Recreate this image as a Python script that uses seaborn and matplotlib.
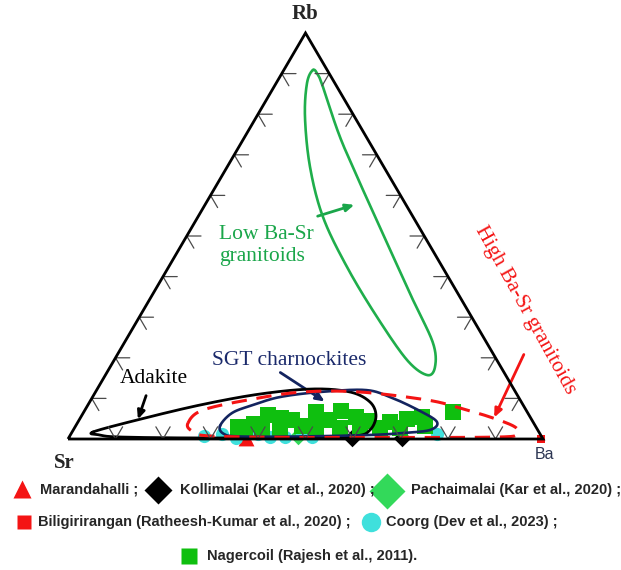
import numpy as np
import pandas as pd
import matplotlib
matplotlib.use("Agg")
import matplotlib.pyplot as plt
import seaborn as sns

# ---- sample compositions (percent of Rb + Ba + Sr) ----
nagercoil_rb = [3.0, 3.7, 5.9, 5.2, 4.7, 6.7, 4.7, 6.9, 5.4, 4.4, 4.2, 4.9, 5.4, 6.7,
                2.2, 2.5, 2.7, 3.2, 3.0, 2.7, 2.7, 2.7, 2.7, 3.2]
nagercoil_ba = [34.3, 37.3, 39.2, 42.2, 44.8, 48.9, 52.6, 54.0, 57.9, 61.0, 65.7, 69.0, 71.8, 77.7,
                36.2, 39.6, 43.3, 47.7, 50.7, 55.9, 60.1, 64.3, 68.6, 73.6]

coorg_rb = [0.7, 1.2, 0.2, 1.2, 0.5, 0.5, 1.5, 0.5, 1.2]
coorg_ba = [28.3, 31.8, 35.3, 39.4, 42.3, 45.5, 48.5, 51.1, 77.1]

marandahalli_rb = [0.2]
marandahalli_ba = [37.4]

kollimalai_rb = [0.2, 0.2]
kollimalai_ba = [59.7, 70.2]

pachaimalai_rb = [0.7]
pachaimalai_ba = [48.1]

biligirirangan_rb = [0.0]
biligirirangan_ba = [99.6]

# ---- field outlines in triangle coordinates (x along Sr->Ba, y = Rb fraction) ----
adakite_field = [(.0526, .0172), (.1453, .0468), (.2779, .0837), (.4042, .1108), (.5158, .1232),
                 (.5937, .1158), (.6358, .0911), (.6484, .0567), (.6358, .0222), (.6042, .0074),
                 (.4884, .0037), (.2779, .0025), (.1095, .0049), (.0674, .0099)]
sgt_field = [(.3200, .0320), (.3453, .0640), (.3895, .0837), (.4463, .1034), (.5305, .1158),
             (.6253, .1207), (.6779, .1034), (.7411, .0690), (.7768, .0419), (.7621, .0222),
             (.7053, .0148), (.6358, .0099), (.4884, .0062), (.3621, .0062), (.3284, .0123)]
high_basr_field = [(.2526, .0394), (.2842, .0714), (.3895, .0985), (.4947, .1158), (.6147, .1158),
                   (.7558, .0961), (.8253, .0764), (.8947, .0517), (.9411, .0296), (.9453, .0123),
                   (.9095, .0049), (.6989, .0037), (.4884, .0037), (.2989, .0074), (.2611, .0197)]
low_basr_field = [(.5158, .9089), (.5032, .8768), (.4989, .7931), (.5095, .6700), (.5368, .5468),
                  (.5874, .4236), (.6505, .3005), (.7137, .1946), (.7558, .1576), (.7726, .1773),
                  (.7684, .2365), (.7263, .3424), (.6716, .4828), (.6211, .6133), (.5726, .7438),
                  (.5368, .8670), (.5263, .8966)]


def to_xy(rb, ba):
    rb = np.asarray(rb, float) / 100.0
    ba = np.asarray(ba, float) / 100.0
    return ba + rb / 2.0, rb


def frame(rb, ba, label):
    x, y = to_xy(rb, ba)
    return pd.DataFrame({"x": x, "y": y, "group": label})


def closed_spline(pts, n=24):
    P = np.asarray(pts, float)
    m = len(P)
    t = np.linspace(0, 1, n, endpoint=False)[:, None]
    segs = []
    for i in range(m):
        p0, p1, p2, p3 = P[i - 1], P[i], P[(i + 1) % m], P[(i + 2) % m]
        segs.append(0.5 * (2 * p1 + (-p0 + p2) * t + (2 * p0 - 5 * p1 + 4 * p2 - p3) * t ** 2
                           + (-p0 + 3 * p1 - 3 * p2 + p3) * t ** 3))
    out = np.vstack(segs)
    return np.vstack([out, out[:1]])


sns.set_style("white")
plt.rcParams["font.family"] = ["Liberation Serif", "DejaVu Serif"]

W, H = 621, 570
fig = plt.figure(figsize=(W / 100, H / 100), dpi=100)
ax = fig.add_axes([0, 0, 1, 1])
ax.set_xlim(-68 / 475, 553 / 475)
ax.set_ylim((439 - 570) / 406, 439 / 406)
ax.axis("off")


def fxy(px, py):
    return px / W, 1 - py / H


# ---- samples ----
RED = "#f41414"
sns.scatterplot(data=frame(kollimalai_rb, kollimalai_ba, "Kollimalai"), x="x", y="y",
                marker="D", s=80, color="black", linewidth=0, zorder=3, ax=ax, legend=False)
sns.scatterplot(data=frame(pachaimalai_rb, pachaimalai_ba, "Pachaimalai"), x="x", y="y",
                marker="D", s=80, color="#33d95a", linewidth=0, zorder=3, ax=ax, legend=False)
sns.scatterplot(data=frame(marandahalli_rb, marandahalli_ba, "Marandahalli"), x="x", y="y",
                marker="^", s=130, color=RED, linewidth=0, zorder=3, ax=ax, legend=False)
sns.scatterplot(data=frame(biligirirangan_rb, biligirirangan_ba, "Biligirirangan"), x="x", y="y",
                marker="s", s=30, color=RED, linewidth=0, zorder=3, ax=ax, legend=False)
sns.scatterplot(data=frame(coorg_rb, coorg_ba, "Coorg"), x="x", y="y",
                marker="o", s=90, color="#3fe0dc", linewidth=0, zorder=4, ax=ax, legend=False)
sns.scatterplot(data=frame(nagercoil_rb, nagercoil_ba, "Nagercoil"), x="x", y="y",
                marker="s", s=130, color="#0fbf0f", linewidth=0, zorder=5, ax=ax, legend=False)

# ---- field outlines ----
c = closed_spline(adakite_field)
ax.plot(c[:, 0], c[:, 1], color="black", lw=2.0, zorder=6)
c = closed_spline(sgt_field)
ax.plot(c[:, 0], c[:, 1], color="#13245f", lw=1.9, zorder=6)
c = closed_spline(high_basr_field)
ax.plot(c[:, 0], c[:, 1], color=RED, lw=2.2, ls=(0, (5, 3.2)), zorder=6)
c = closed_spline(low_basr_field)
ax.plot(c[:, 0], c[:, 1], color="#1fae4b", lw=1.9, zorder=6)

# ---- triangle frame and ticks ----
ax.plot([0, 1, 0.5, 0], [0, 0, 1, 0], color="black", lw=2.0, zorder=8,
        solid_joinstyle="miter", solid_capstyle="butt")
t = 0.03
for f in np.arange(1, 10) / 10:
    kw = dict(color="#4a4a4a", lw=0.9, zorder=7)
    # bottom edge
    ax.plot([f - t / 2, f, f + t / 2], [t, 0, t], **kw)
    # left edge
    lx, ly = f / 2, f
    ax.plot([lx + t, lx, lx + t / 2], [ly, ly, ly - t], **kw)
    # right edge
    rx, ry = 1 - f / 2, f
    ax.plot([rx - t, rx, rx - t / 2], [ry, ry, ry - t], **kw)

# ---- apex labels ----
ax.text(0.5, 1.048, "Rb", ha="center", va="center", fontsize=15, fontweight="bold")
ax.text(-0.008, -0.058, "Sr", ha="center", va="center", fontsize=15, fontweight="bold")
ax.text(1.004, -0.038, "Ba", ha="center", va="center", fontsize=11.5, color="#2b3552",
        family=["Liberation Sans", "DejaVu Sans"], zorder=9,
        bbox=dict(boxstyle="square,pad=0.05", fc="white", ec="none"))

# ---- field labels and arrows ----
ax.text(.3179, .528, "Low Ba-Sr\ngranitoids", ha="left", va="top", fontsize=15.5,
        color="#1aa64a", linespacing=1.22)
ax.annotate("", xy=(.6084, .5788), xytext=(.5200, .5468),
            arrowprops=dict(arrowstyle="-|>,head_length=0.5,head_width=0.22", color="#1aa64a", lw=2))
ax.text(.4653, .182, "SGT charnockites", ha="center", va="baseline", fontsize=15.5, color="#1b2a6b")
ax.annotate("", xy=(.5453, .0887), xytext=(.4421, .1675),
            arrowprops=dict(arrowstyle="-|>,head_length=0.5,head_width=0.22", color="#13245f", lw=2))
ax.text(.1811, .137, "Adakite", ha="center", va="baseline", fontsize=15.5, color="black")
ax.annotate("", xy=(.1453, .0419), xytext=(.1663, .1133),
            arrowprops=dict(arrowstyle="-|>,head_length=0.5,head_width=0.22", color="black", lw=2))
ax.text(.9621, .3177, "High Ba-Sr granitoids", ha="center", va="center", fontsize=15.5,
        color=RED, rotation=-61, rotation_mode="anchor")
ax.annotate("", xy=(.8947, .0468), xytext=(.9621, .2143),
            arrowprops=dict(arrowstyle="-|>,head_length=0.5,head_width=0.22", color=RED, lw=2))

# ---- key ----
key_font = dict(fontsize=10.5, fontweight="bold", family=["Liberation Sans", "DejaVu Sans"],
                ha="left", va="center", transform=ax.transAxes)
key_rows = [
    ("^", RED, 13, (22, 489), "Marandahalli ;", (40, 490)),
    ("D", "black", 14, (158, 490), "Kollimalai (Kar et al., 2020) ;", (180, 490)),
    ("D", "#33d95a", 18, (387, 491), "Pachaimalai (Kar et al., 2020) ;", (411, 490)),
    ("s", RED, 10, (24, 522), "Biligirirangan (Ratheesh-Kumar et al., 2020) ;", (38, 522)),
    ("o", "#3fe0dc", 14, (371, 522), "Coorg (Dev et al., 2023) ;", (386, 522)),
    ("s", "#0fbf0f", 11.5, (189, 556), "Nagercoil (Rajesh et al., 2011).", (207, 556)),
]
for mk, col, ms, mpos, label, tpos in key_rows:
    mx, my = fxy(*mpos)
    ax.plot([mx], [my], marker=mk, ms=ms, color=col, mec="none", transform=ax.transAxes,
            clip_on=False)
    tx, ty = fxy(*tpos)
    ax.text(tx, ty, label, **key_font)

fig.savefig("out.png", dpi=100)
